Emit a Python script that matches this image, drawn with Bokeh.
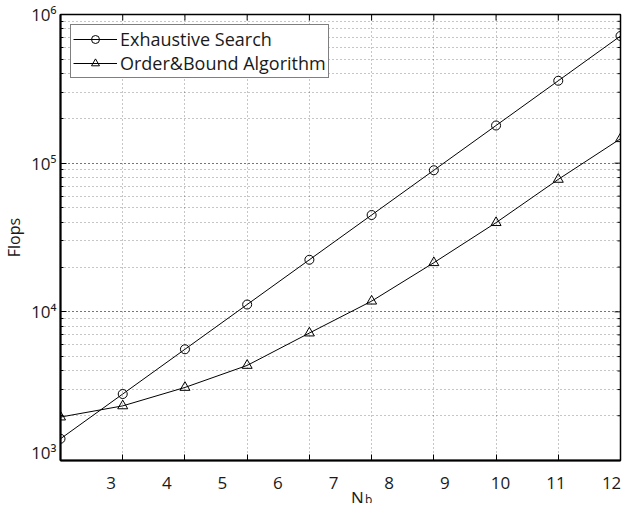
import math
from bokeh.plotting import figure
from bokeh.layouts import column
from bokeh.models import (Legend, LegendItem, Label, FixedTicker, LogTicker, Range1d)
from bokeh.core.properties import value
from bokeh.embed import file_html
from bokeh.resources import INLINE

# ---- data ----
nb = [3, 4, 5, 6, 7, 8, 9, 10, 11, 12]
exhaustive = [1400, 2800, 5600, 11200, 22400, 44800, 89600, 179200, 358400, 716800]
order_bound = [1960, 2330, 3100, 4360, 7200, 11800, 21400, 39800, 77800, 146000]
x_ticks = [3, 4, 5, 6, 7, 8, 9, 10, 11, 12]
x_tick_labels = ["3", "4", "5", "6", "7", "8", "9", "10", "11", "12"]
y_ticks = [1000, 10000, 100000, 1000000]
y_tick_labels = ["10³", "10⁴", "10⁵", "10⁶"]
series_names = ["Exhaustive Search", "Order&Bound Algorithm"]
x_label_main, x_label_sub = "N", "b"
y_label = "Flops"

FONT = "Open Sans"
TXT = "#1a1a1a"
W = 630
BL, BR, BT, BB = 57, 10, 14, 3
FRAME_H = 446
PH = BT + FRAME_H + BB          # main figure height
QH = 503 - PH                   # strip below with tick labels and x title

X0, X1 = 3, 12
Y0, Y1 = 1e3, 1e6

p = figure(width=W, height=PH, y_axis_type="log",
           x_range=(X0, X1), y_range=(Y0, Y1),
           output_backend="svg", toolbar_location=None,
           min_border_left=BL, min_border_right=BR,
           min_border_top=BT, min_border_bottom=BB)
p.background_fill_color = "white"
p.border_fill_color = "white"
p.outline_line_color = "black"
p.outline_line_width = 1.5

# grids
for g in (p.xgrid, p.ygrid):
    g.grid_line_color = "black"
    g.grid_line_dash = "1 3"
    g.grid_line_alpha = 0.45
    g.grid_line_width = 1
p.ygrid.minor_grid_line_color = "black"
p.ygrid.minor_grid_line_dash = "1 3"
p.ygrid.minor_grid_line_alpha = 0.45

# bottom axis: line and inward ticks only (labels are drawn in the strip below)
xa = p.xaxis[0]
xa.ticker = FixedTicker(ticks=x_ticks)
xa.major_tick_in = 6
xa.major_tick_out = 0
xa.minor_tick_in = 0
xa.minor_tick_out = 0
xa.axis_line_color = "black"
xa.axis_line_width = 2
xa.major_label_overrides = {v: "" for v in x_ticks}
xa.major_label_text_font_size = "1px"
xa.major_label_text_color = None
xa.major_label_standoff = 0

# left axis
ya = p.yaxis[0]
ya.ticker = LogTicker(num_minor_ticks=10)
ya.major_label_overrides = {v: s for v, s in zip(y_ticks, y_tick_labels)}
ya.major_tick_in = 6
ya.major_tick_out = 0
ya.minor_tick_in = 3
ya.minor_tick_out = 0
ya.axis_line_color = "black"
ya.axis_line_width = 2
ya.major_label_text_font = FONT
ya.major_label_text_font_size = "17px"
ya.major_label_text_color = TXT
ya.major_label_standoff = 4
ya.axis_label = y_label
ya.axis_label_text_font = FONT
ya.axis_label_text_font_size = "16px"
ya.axis_label_text_font_style = "normal"
ya.axis_label_text_color = TXT
ya.axis_label_standoff = 3

# mirrored inward ticks on top and right edges (rays of fixed screen length)
minor_y = [m * d for d in y_ticks[:-1] for m in range(2, 10)]
p.ray(x=[X1] * len(y_ticks), y=y_ticks, length=6, length_units="screen",
      angle=math.pi, line_color="black", line_width=1)
p.ray(x=[X1] * len(minor_y), y=minor_y, length=3, length_units="screen",
      angle=math.pi, line_color="black", line_width=1)
p.ray(x=x_ticks, y=[Y1] * len(x_ticks), length=6, length_units="screen",
      angle=-math.pi / 2, line_color="black", line_width=1)

# series
l1 = p.line(nb, exhaustive, line_color="black", line_width=1)
s1 = p.scatter(nb, exhaustive, marker="circle", size=9, fill_color=None,
               line_color="black", line_width=1)
l2 = p.line(nb, order_bound, line_color="black", line_width=1)
s2 = p.scatter(nb, order_bound, marker="triangle", size=10, fill_color=None,
               line_color="black", line_width=1)

legend = Legend(items=[LegendItem(label=series_names[0], renderers=[l1, s1]),
                       LegendItem(label=series_names[1], renderers=[l2, s2])],
                location="top_left", margin=10, padding=2, spacing=0,
                glyph_width=44, glyph_height=20, label_standoff=3,
                label_text_font=FONT, label_text_font_size="18px",
                label_text_color=TXT, label_height=20,
                border_line_color="black", border_line_width=1.2,
                background_fill_color="white", background_fill_alpha=1)
p.add_layout(legend)

# strip below: same pixel mapping as the main frame, but its frame covers the whole strip
fw = W - BL - BR
ppx = (X1 - X0) / fw
q = figure(width=W, height=QH,
           x_range=Range1d(X0 - BL * ppx, X1 + BR * ppx), y_range=Range1d(0, QH),
           output_backend="svg", toolbar_location=None,
           x_axis_location=None, y_axis_location=None,
           min_border_left=0, min_border_right=0,
           min_border_top=0, min_border_bottom=0)
q.outline_line_color = None
q.background_fill_color = "white"
q.border_fill_color = "white"
q.xgrid.visible = False
q.ygrid.visible = False

q.text(x=x_ticks, y=[QH - 19] * len(x_ticks), text=x_tick_labels,
       text_font=value(FONT), text_font_size="17px", text_color=TXT,
       text_align="center", text_baseline="alphabetic")
q.add_layout(Label(x=7.43, y=6, text=x_label_main, text_font=FONT,
                   text_font_size="17px", text_color=TXT,
                   text_align="center", text_baseline="alphabetic"))
q.add_layout(Label(x=7.63, y=3.8, text=x_label_sub, text_font=FONT,
                   text_font_size="12px", text_color=TXT,
                   text_align="center", text_baseline="alphabetic"))

layout = column(p, q, spacing=0)
open("out.html", "w").write(file_html(layout, INLINE))
